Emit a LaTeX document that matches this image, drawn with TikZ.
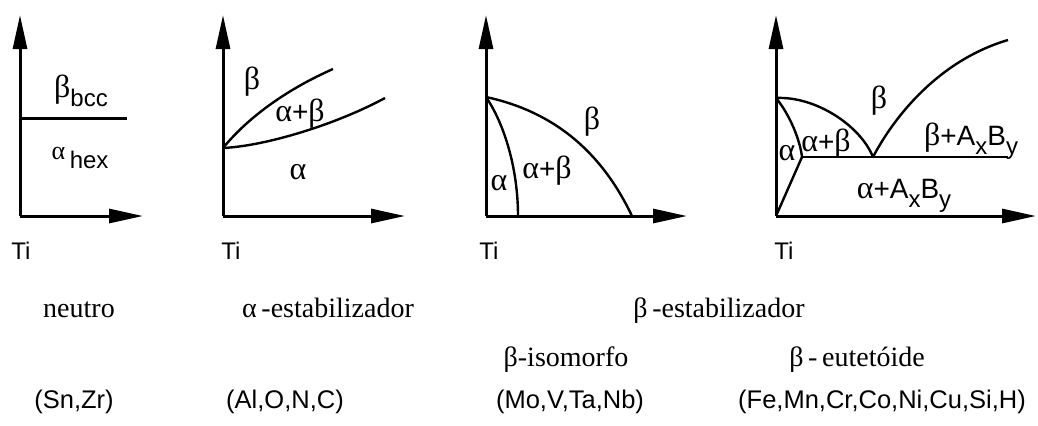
\documentclass[tikz,border=0pt]{standalone}
\usepackage{fontspec}
\setmainfont{Liberation Serif}
\setsansfont{Liberation Sans}
\usetikzlibrary{arrows.meta}
\newcommand{\galpha}{{\rmfamily\fontsize{16}{18}\selectfont α}}
\newcommand{\gbeta}{{\rmfamily\fontsize{16}{18}\selectfont β}}
\newcommand{\lowsub}[1]{\raisebox{-0.6ex}{\fontsize{12}{14}\selectfont #1}}

\begin{document}
\begin{tikzpicture}[x=0.5pt, y=-0.5pt,
            axisarrow/.style={line width=1.5pt, -{Triangle[length=17pt, width=7pt]}},
            phaseline/.style={line width=1.2pt},
            phaselab/.style={font=\sffamily\fontsize{14}{16}\selectfont, inner sep=0pt},
            tilab/.style={font=\sffamily\fontsize{12}{14}\selectfont, inner sep=0pt, anchor=base},
            kindlab/.style={font=\fontsize{14}{16}\selectfont, inner sep=0pt, anchor=base},
            elemlab/.style={font=\sffamily\fontsize{12.75}{15}\selectfont, inner sep=0pt, anchor=base}]
            \useasboundingbox (0,0) rectangle (1038,425);

            % Neutral: a flat transus
            \coordinate (O1) at (20,216);
            \coordinate (Y1) at (20,15);
            \coordinate (X1) at (143,216);
            \coordinate (P1) at (20,118);
            \coordinate (Q1) at (127,118);
            \draw[axisarrow] (O1) -- (Y1);
            \draw[axisarrow] (O1) -- (X1);
            \draw[line width=1.5pt] (P1) -- (Q1);
            \node[phaselab] (bcc) at (81,91) {\gbeta\lowsub{bcc}};
            \node[phaselab] (hex) at (80,158) {{\rmfamily\fontsize{13}{15}\selectfont α}\,\lowsub{hex}};
            \node[tilab] (Ti1) at (21,259) {Ti};

            % Alpha stabilizer
            \coordinate (O2) at (223,216);
            \coordinate (Y2) at (223,15);
            \coordinate (X2) at (405,216);
            \coordinate (M2) at (223,148);
            \coordinate (U2) at (333,69);
            \coordinate (L2) at (385,98);
            \draw[axisarrow] (O2) -- (Y2);
            \draw[axisarrow] (O2) -- (X2);
            \draw[phaseline] (M2) .. controls (250,115) and (290,88) .. (U2);
            \draw[phaseline] (M2) .. controls (265,146) and (335,125) .. (L2);
            \node[phaselab] (b2) at (252,82) {\gbeta};
            \node[phaselab] (ab2) at (300,114) {\galpha+\gbeta};
            \node[phaselab] (a2) at (298,172) {\galpha};
            \node[tilab] (Ti2) at (231,259) {Ti};

            % Beta isomorphous
            \coordinate (O3) at (486,216);
            \coordinate (Y3) at (486,15);
            \coordinate (X3) at (687,216);
            \coordinate (M3) at (486,97);
            \coordinate (A3) at (518,216);
            \coordinate (B3) at (632,216);
            \draw[axisarrow] (O3) -- (Y3);
            \draw[axisarrow] (O3) -- (X3);
            \draw[phaseline] (M3) .. controls (505,125) and (518,170) .. (A3);
            \draw[phaseline] (M3) .. controls (570,115) and (610,170) .. (B3);
            \node[phaselab] (b3) at (592,122) {\gbeta};
            \node[phaselab] (ab3) at (547,171) {\galpha+\gbeta};
            \node[phaselab] (a3) at (499,183) {\galpha};
            \node[tilab] (Ti3) at (489,259) {Ti};

            % Beta eutectoid
            \coordinate (O4) at (776,216);
            \coordinate (Y4) at (776,15);
            \coordinate (X4) at (1036,216);
            \coordinate (M4) at (776,98);
            \coordinate (T4) at (802,157);
            \coordinate (E4) at (873,157);
            \coordinate (H4) at (1008,157);
            \coordinate (R4) at (1008,40);
            \draw[axisarrow] (O4) -- (Y4);
            \draw[axisarrow] (O4) -- (X4);
            \draw[phaseline] (M4) .. controls (790,115) and (800,140) .. (T4);
            \draw[phaseline] (T4) -- (O4);
            \draw[phaseline] (M4) .. controls (815,96) and (860,125) .. (E4);
            \draw[phaseline] (E4) .. controls (895,115) and (940,60) .. (R4);
            \draw[phaseline] (T4) -- (H4);
            \node[phaselab] (b4) at (879,101) {\gbeta};
            \node[phaselab] (bab4) at (971,141) {\gbeta+A\lowsub{x}B\lowsub{y}};
            \node[phaselab] (a4) at (787,153) {\galpha};
            \node[phaselab] (ab4) at (826,144) {\galpha+\gbeta};
            \node[phaselab] (aab4) at (904,196) {\galpha+A\lowsub{x}B\lowsub{y}};
            \node[tilab] (Ti4) at (784,259) {Ti};

            % Captions
            \node[kindlab] (neutro) at (79,317) {neutro};
            \node[kindlab] (alfaest) at (328,317) {α\,-estabilizador};
            \node[kindlab] (betaest) at (719,317) {β\,-estabilizador};
            \node[kindlab] (betaiso) at (566,366) {β-isomorfo};
            \node[kindlab] (betaeut) at (857,366) {β\,-\,eutetóide};
            \node[elemlab] (el1) at (74,408) {(Sn,Zr)};
            \node[elemlab] (el2) at (285,408) {(Al,O,N,C)};
            \node[elemlab] (el3) at (570,408) {(Mo,V,Ta,Nb)};
            \node[elemlab] (el4) at (882,408) {(Fe,Mn,Cr,Co,Ni,Cu,Si,H)};
        \end{tikzpicture}
\end{document}
